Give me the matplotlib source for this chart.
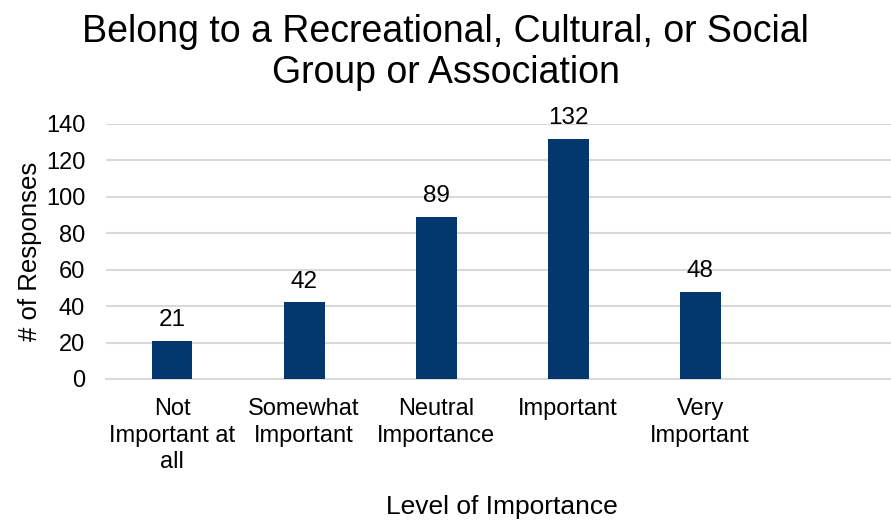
import matplotlib.pyplot as plt
import numpy as np

plt.rcParams['font.family'] = ['Liberation Sans', 'DejaVu Sans']

# dados
categorias = ['Not\nImportant at\nall', 'Somewhat\nImportant', 'Neutral\nImportance',
              'Important', 'Very\nImportant', '']
respostas = [21, 42, 89, 132, 48]
yticks = [0, 20, 40, 60, 80, 100, 120, 140]

cor_barra = '#02386E'
cor_grade = '#D9D9D9'

fig = plt.figure(figsize=(8.91, 5.21), dpi=100)
ax = fig.add_axes([0.119, 0.2726, 0.889, 0.4894])

x = np.arange(len(respostas))
barras = ax.bar(x, respostas, width=0.31, color=cor_barra, zorder=3)
ax.bar_label(barras, padding=7, fontsize=17.5)

ax.set_xlim(-0.5, 5.5)
ax.set_ylim(0, 140)
ax.set_yticks(yticks)
ax.set_xticks(np.arange(len(categorias)))
ax.set_xticklabels(categorias, fontsize=17, linespacing=1.25)
ax.tick_params(axis='y', labelsize=17, length=0, pad=15)
ax.tick_params(axis='x', length=0, pad=14)

ax.grid(axis='y', color=cor_grade, linewidth=1.5, zorder=0)
for lado in ['top', 'right', 'left']:
    ax.spines[lado].set_visible(False)
ax.spines['bottom'].set_color(cor_grade)
ax.spines['bottom'].set_linewidth(1.5)

ax.set_xlabel('Level of Importance', fontsize=19, labelpad=16)
ax.set_ylabel('# of Responses', fontsize=18.5, labelpad=3)
fig.suptitle('Belong to a Recreational, Cultural, or Social\nGroup or Association',
             fontsize=27, x=0.5, y=0.973, linespacing=1.18)

fig.savefig('out.png', dpi=100)
